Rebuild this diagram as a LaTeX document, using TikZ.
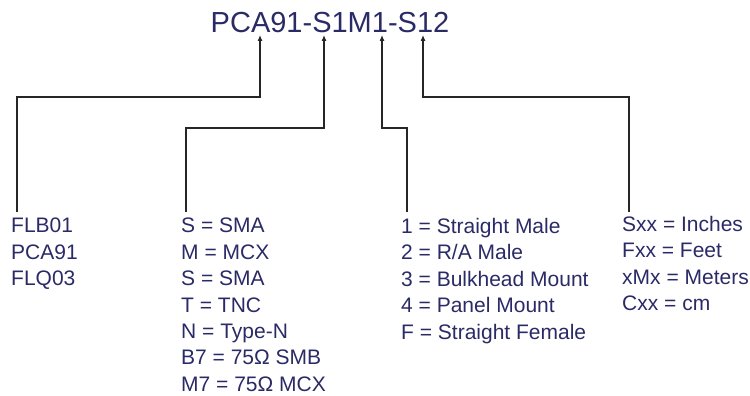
\documentclass[tikz,border=0pt]{standalone}
\usepackage{fontspec}
\setmainfont{Liberation Sans}
\usetikzlibrary{arrows.meta,calc}
\definecolor{partblue}{RGB}{42,42,102}

\begin{document}
\begin{tikzpicture}[x=1pt,y=-1pt,
    list/.style={anchor=north west, inner sep=0pt, align=left, text=partblue,
      font=\fontsize{21}{26.4}\selectfont},
    lead/.style={draw=black!85, line width=1.1pt, -{Latex[length=6pt,width=5pt]}}]
  \useasboundingbox (0,0) rectangle (750,396);

  % part number
  \node[text=partblue, font=\fontsize{29}{34}\selectfont, anchor=base] (pn) at (330,33) {PCA91-S1M1-S12};

  % arrow tips under the part number
  \coordinate (tipA) at (260,35);
  \coordinate (tipB) at (324,35);
  \coordinate (tipC) at (382,35);
  \coordinate (tipD) at (423,35);
  % knees of the leads
  \coordinate (kneeA) at (260,97);
  \coordinate (kneeB) at (324,128);
  \coordinate (kneeC) at (382,128);
  \coordinate (kneeD) at (423,97);

  % option lists
  \node[list] (series) at (11,218) {FLB01\\PCA91\\FLQ03};
  \node[list] (conn) at (181,218) {S = SMA\\M = MCX\\S = SMA\\T = TNC\\N = Type-N\\B7 = 75Ω SMB\\M7 = 75Ω MCX};
  \node[list] (style) at (401,218) {1 = Straight Male\\2 = R/A Male\\3 = Bulkhead Mount\\4 = Panel Mount\\F = Straight Female};
  \node[list] (len) at (622,216) {Sxx = Inches\\Fxx = Feet\\xMx = Meters\\Cxx = cm};

  % leads
  \draw[lead] ($(series.north west)+(6,-6)$) |- (kneeA) -- (tipA);
  \draw[lead] ($(conn.north west)+(5,-6)$) |- (kneeB) -- (tipB);
  \draw[lead] ($(style.north west)+(6,-6)$) |- (kneeC) -- (tipC);
  \draw[lead] ($(len.north west)+(7,-4)$) |- (kneeD) -- (tipD);
\end{tikzpicture}
\end{document}
